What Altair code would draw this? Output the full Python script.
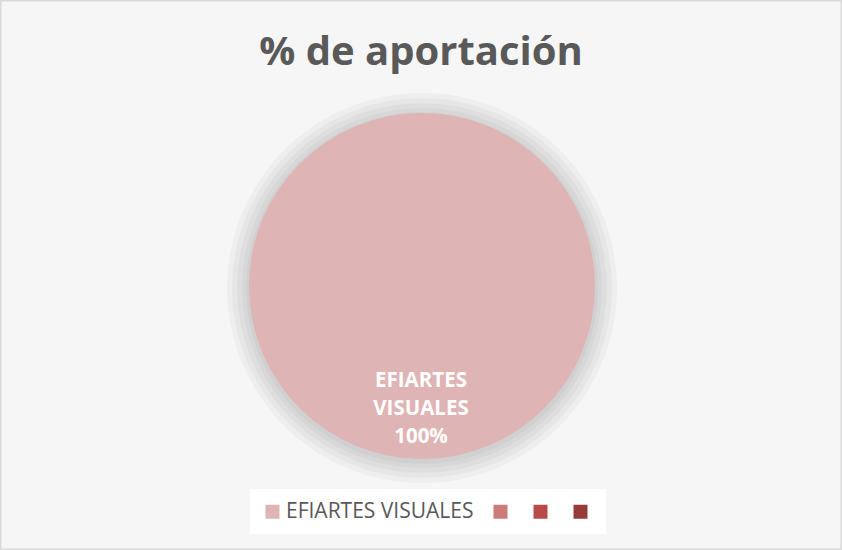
import altair as alt
import pandas as pd

# ---- data ----
categories = ["EFIARTES VISUALES", "Serie 2", "Serie 3", "Serie 4"]
values = [100, 0, 0, 0]
colors = ["#DFB4B4", "#CC7B7B", "#B84A4A", "#963A3A"]
title_text = "% de aportación"

df = pd.DataFrame({"categoria": categories, "valor": values, "orden": list(range(len(categories)))})

CX, CY, R = 422, 286, 173

color_scale = alt.Scale(domain=categories, range=colors)
base = alt.Chart(df)

# soft shadow around the pie
shadows = [
    base.transform_filter("datum.valor > 0").mark_arc(radius=R + d, color="#000000", opacity=0.03).encode(
        theta=alt.Theta("valor:Q", stack=True),
        x=alt.value(CX), y=alt.value(CY + 2),
    )
    for d in (22, 17, 12, 7, 3)
]

pie = base.mark_arc(radius=R, stroke=None).encode(
    theta=alt.Theta("valor:Q", stack=True),
    order=alt.Order("orden:Q"),
    x=alt.value(CX), y=alt.value(CY),
    color=alt.Color(
        "categoria:N",
        scale=color_scale,
        sort=categories,
        legend=alt.Legend(
            title=None,
            orient="none",
            legendX=250,
            legendY=489,
            direction="horizontal",
            fillColor="#FFFFFF",
            padding=12,
            symbolType="square",
            symbolSize=196,
            symbolStrokeWidth=0,
            symbolOpacity=1,
            labelFontSize=21,
            labelFont="Open Sans",
            labelColor="#595959",
            labelOffset=3,
            columnPadding=16,
            labelLimit=400,
            labelExpr="datum.label == 'EFIARTES VISUALES' ? datum.label : ''",
        ),
    ),
)

labels = base.transform_filter("datum.valor > 0").transform_joinaggregate(
    total="sum(valor)"
).transform_calculate(
    etiqueta="replace(datum.categoria, ' ', '\\n') + '\\n' + format(datum.valor / datum.total, '.0%')"
).mark_text(
    font="Open Sans", fontWeight="bold", fontSize=20.5, color="#FFFFFF",
    lineBreak="\n", lineHeight=28, align="center", baseline="middle",
).encode(
    text="etiqueta:N",
    x=alt.value(CX - 1), y=alt.value(CY + 95),
)

chart = alt.layer(*shadows, pie, labels).properties(
    width=842,
    height=550,
    autosize=alt.AutoSizeParams(type="none"),
    padding=0,
    background="#F6F6F6",
    title=alt.TitleParams(
        text=title_text,
        font="Open Sans",
        fontSize=40,
        fontWeight="bold",
        color="#595959",
        anchor="middle",
        dy=77,
    ),
).configure_view(stroke="#D9D9D9", strokeWidth=3)

chart.save("out.html", embed_options={"renderer": "svg", "actions": False})
